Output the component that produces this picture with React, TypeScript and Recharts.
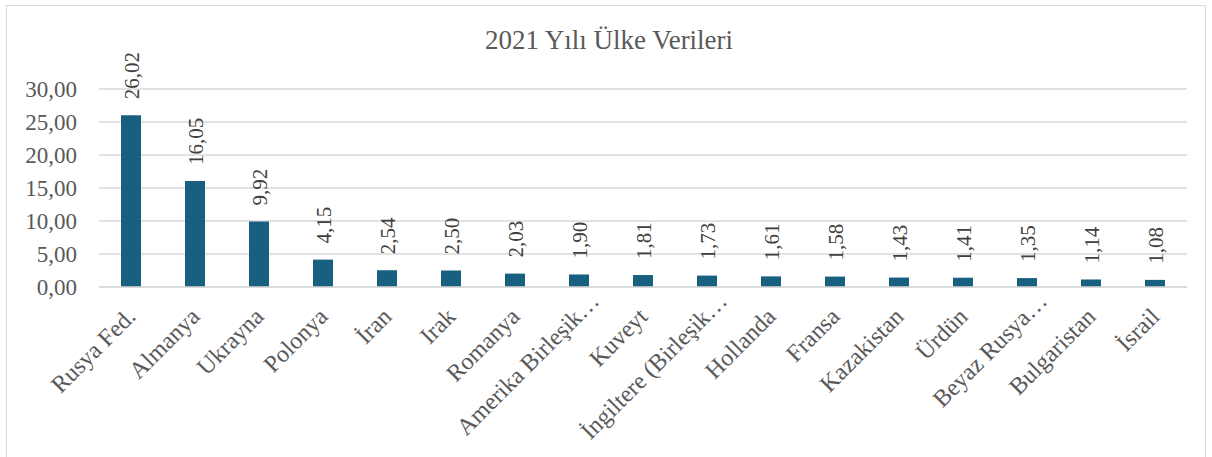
import { Bar, BarChart, CartesianGrid, LabelList, XAxis, YAxis } from 'recharts'

const countries = [
  'Rusya Fed.', 'Almanya', 'Ukrayna', 'Polonya', 'İran', 'Irak', 'Romanya',
  'Amerika Birleşik…', 'Kuveyt', 'İngiltere (Birleşik…', 'Hollanda', 'Fransa',
  'Kazakistan', 'Ürdün', 'Beyaz Rusya…', 'Bulgaristan', 'İsrail',
]
const values = [
  26.02, 16.05, 9.92, 4.15, 2.54, 2.5, 2.03, 1.9, 1.81, 1.73, 1.61, 1.58,
  1.43, 1.41, 1.35, 1.14, 1.08,
]
const yTicks = [0, 5, 10, 15, 20, 25, 30]

const data = countries.map((name, i) => ({ name, value: values[i] }))

const FONT = '"Liberation Serif", "Times New Roman", serif'
const TEXT = '#595959'
const GRID = '#d9d9d9'
const BAR = '#185f82'

const fmt = (v: number) => v.toFixed(2).replace('.', ',')

const ValueLabel = (props: any) => {
  const { x, y, width, value } = props
  const cx = x + width / 2 + 1
  const cy = y - 16
  return (
    <text
      x={cx} y={cy}
      transform={`rotate(-90, ${cx}, ${cy})`}
      textAnchor="start" dominantBaseline="central"
      fill="#404040" fontSize={21}
      style={{ fontFamily: FONT }}
    >
      {fmt(value)}
    </text>
  )
}

const CatTick = (props: any) => {
  const { x, y, payload } = props
  const tx = x + 6
  const ty = y + 23
  // Excel leaves extra room after truncated names
  const shift = String(payload.value).endsWith('…') ? 22 : 0
  return (
    <text
      x={tx} y={ty} dx={shift}
      transform={`rotate(-45, ${tx}, ${ty})`}
      textAnchor="end" fill={TEXT} fontSize={24}
      style={{ fontFamily: FONT }}
    >
      {payload.value}
    </text>
  )
}

export default function App() {
  return (
    <div style={{ position: 'absolute', left: 0, top: 0, width: 1212, height: 457, background: '#fff', overflow: 'hidden' }}>
      <div style={{ position: 'absolute', left: 6, top: 5, width: 1198, height: 470, border: `1px solid ${GRID}` }} />
      <svg width={1212} height={60} style={{ position: 'absolute', left: 0, top: 0 }}>
        <text x={609} y={49} textAnchor="middle" fill={TEXT} fontSize={27} style={{ fontFamily: FONT }}>
          2021 Yılı Ülke Verileri
        </text>
      </svg>
      <div style={{ position: 'absolute', left: 0, top: 0 }}>
        <BarChart width={1212} height={457} data={data} margin={{ top: 89, right: 25, left: 0, bottom: 0 }}>
          <CartesianGrid vertical={false} stroke={GRID} strokeWidth={1.5} />
          <YAxis
            width={99}
            domain={[0, 30]}
            ticks={yTicks}
            tickFormatter={fmt}
            tick={{ fill: TEXT, fontSize: 23, style: { fontFamily: FONT } }}
            tickLine={false} axisLine={false}
            tickMargin={16}
            interval={0}
          />
          <XAxis
            dataKey="name"
            height={170}
            interval={0}
            tickLine={false}
            axisLine={{ stroke: GRID, strokeWidth: 1.5 }}
            tick={<CatTick />}
          />
          <Bar dataKey="value" fill={BAR} barSize={20} isAnimationActive={false}>
            <LabelList dataKey="value" content={<ValueLabel />} />
          </Bar>
        </BarChart>
      </div>
    </div>
  )
}
